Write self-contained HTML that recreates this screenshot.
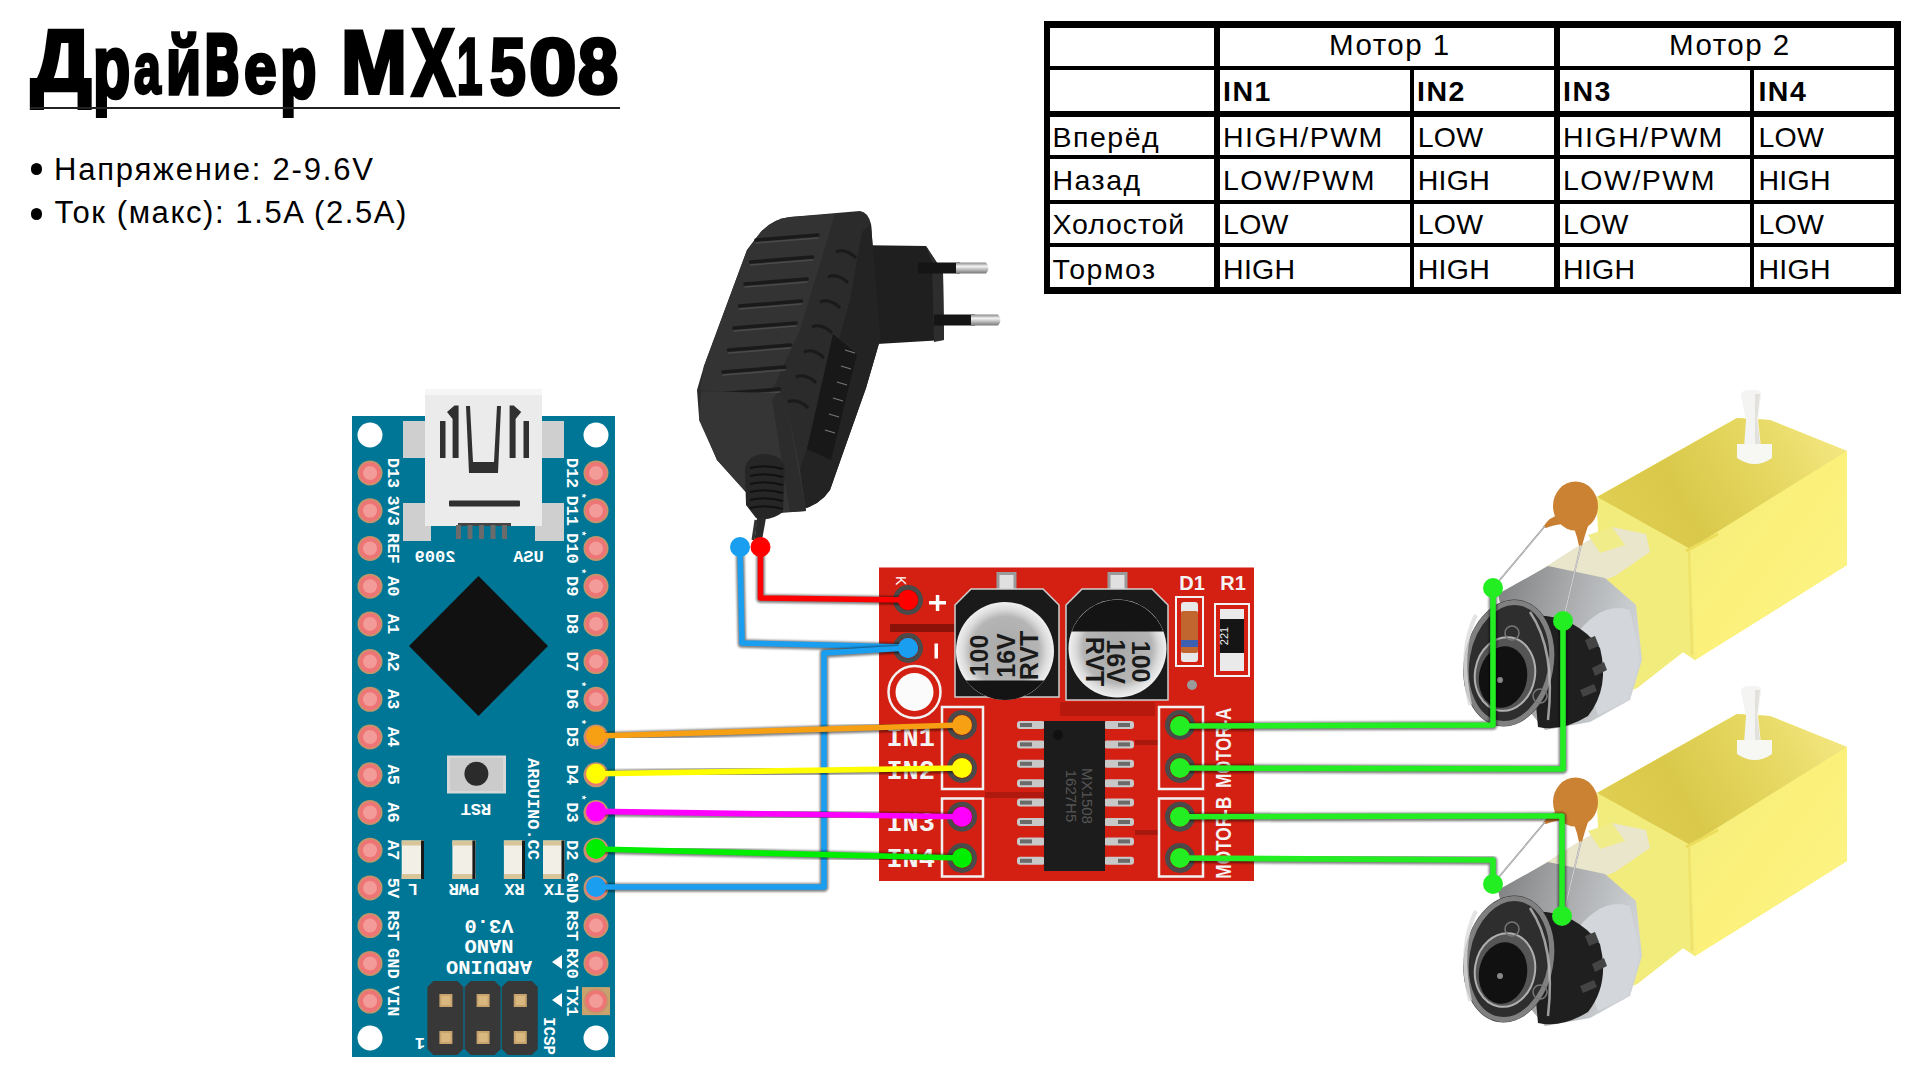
<!DOCTYPE html>
<html><head><meta charset="utf-8">
<style>
html,body{margin:0;padding:0;width:1920px;height:1080px;overflow:hidden;background:#fff;}
body{position:relative;font-family:"Liberation Sans",sans-serif;color:#000;}
.abs{position:absolute;}
.ttl{position:absolute;font-weight:bold;font-size:100px;line-height:1;white-space:nowrap;-webkit-text-stroke:4.5px #000;stroke-linejoin:round;transform-origin:0 0;}
#uline{position:absolute;left:30px;top:107px;width:590px;height:2px;background:#222;}
.bul{position:absolute;font-size:31px;line-height:1;white-space:nowrap;}
.dot{position:absolute;width:11.5px;height:11.5px;border-radius:50%;background:#000;}
.tb{position:absolute;background:#000;}
.tc{position:absolute;font-size:28.5px;line-height:1;white-space:nowrap;letter-spacing:1.5px;}
.tc.b{font-weight:bold;}
svg text{font-family:"Liberation Mono",monospace;fill:#fff;}
.pl{font-size:17px;font-weight:bold;text-anchor:middle;}
.ast{font-size:10px;font-weight:bold;text-anchor:middle;}
.bt{font-size:17px;font-weight:bold;text-anchor:middle;}
.bt2{font-size:17px;font-weight:bold;text-anchor:middle;}
.bt3{font-size:20.5px;font-weight:bold;text-anchor:middle;}
.dk{font-size:14px;font-family:"Liberation Sans",sans-serif;}
.inl{font-family:"Liberation Mono",monospace;font-size:27px;font-weight:bold;text-anchor:middle;fill:#f4f4f4;}
.mot{font-family:"Liberation Sans",sans-serif;font-size:22px;font-weight:bold;text-anchor:middle;fill:#f4f4f4;}
.cap{font-family:"Liberation Sans",sans-serif;font-size:25px;font-weight:bold;text-anchor:middle;fill:#1a1a1a;}
.dl{font-family:"Liberation Sans",sans-serif;font-size:20px;font-weight:bold;text-anchor:middle;fill:#f4f4f4;}
.r1{font-family:"Liberation Sans",sans-serif;font-size:11px;text-anchor:middle;fill:#eee;}
.chip{font-family:"Liberation Sans",sans-serif;font-size:15px;text-anchor:middle;fill:#555;}
</style></head>
<body>
<div class="ttl" style="left:31.36px;top:17.20px;transform:scale(0.8469,0.8727)">Д</div>
<div class="ttl" style="left:92.91px;top:22.19px;transform:scale(0.6092,0.8805)">р</div>
<div class="ttl" style="left:133.64px;top:31.72px;transform:scale(0.4817,0.7227)">а</div>
<div class="ttl" style="left:166.29px;top:24.59px;transform:scale(0.5714,0.8127)">й</div>
<div class="ttl" style="left:203.97px;top:-0.72px;transform:scale(0.5743,1.1165)">в</div>
<div class="ttl" style="left:243.97px;top:31.72px;transform:scale(0.5867,0.7227)">е</div>
<div class="ttl" style="left:279.67px;top:22.19px;transform:scale(0.5963,0.8805)">р</div>
<div class="ttl" style="left:341.24px;top:16.65px;transform:scale(0.7919,0.8980)">M</div>
<div class="ttl" style="left:412.10px;top:13.60px;transform:scale(0.6380,0.9524)">X</div>
<div class="ttl" style="left:457.29px;top:25.64px;transform:scale(0.4563,0.8041)">1</div>
<div class="ttl" style="left:489.52px;top:25.63px;transform:scale(0.6422,0.8054)">5</div>
<div class="ttl" style="left:528.50px;top:25.67px;transform:scale(0.8544,0.7947)">0</div>
<div class="ttl" style="left:578.46px;top:25.80px;transform:scale(0.7211,0.7841)">8</div>
<div id="uline"></div>
<div class="dot" style="left:30.5px;top:163.2px"></div><div class="bul" style="left:54px;top:153.7px;letter-spacing:1.8px">Напряжение: 2-9.6V</div>
<div class="dot" style="left:30.5px;top:208.2px"></div><div class="bul" style="left:54.4px;top:197.4px;letter-spacing:1.6px">Ток (макс): 1.5A (2.5A)</div>

<!-- TABLE -->
<div id="table">
<!-- horizontal borders -->
<div class="tb" style="left:1044px;top:21px;width:857px;height:7px"></div>
<div class="tb" style="left:1044px;top:66px;width:857px;height:4px"></div>
<div class="tb" style="left:1044px;top:111px;width:857px;height:6px"></div>
<div class="tb" style="left:1044px;top:155px;width:857px;height:4px"></div>
<div class="tb" style="left:1044px;top:200px;width:857px;height:4px"></div>
<div class="tb" style="left:1044px;top:243px;width:857px;height:4px"></div>
<div class="tb" style="left:1044px;top:287px;width:857px;height:7px"></div>
<!-- vertical borders -->
<div class="tb" style="left:1044px;top:21px;width:6px;height:273px"></div>
<div class="tb" style="left:1214px;top:21px;width:6px;height:273px"></div>
<div class="tb" style="left:1410px;top:66px;width:4px;height:228px"></div>
<div class="tb" style="left:1554px;top:21px;width:6px;height:273px"></div>
<div class="tb" style="left:1750px;top:66px;width:4px;height:228px"></div>
<div class="tb" style="left:1894px;top:21px;width:7px;height:273px"></div>
<!-- cells -->
<div class="tc" style="left:1329px;top:29.8px;font-size:29.5px">Мотор 1</div>
<div class="tc" style="left:1669px;top:29.8px;font-size:29.5px">Мотор 2</div>
<div class="tc b" style="left:1223px;top:77.3px">IN1</div>
<div class="tc b" style="left:1417px;top:77.3px">IN2</div>
<div class="tc b" style="left:1563px;top:77.3px">IN3</div>
<div class="tc b" style="left:1758.4px;top:77.3px">IN4</div>
<div class="tc" style="left:1052.5px;top:122.6px">Вперёд</div>
<div class="tc" style="left:1223px;top:122.6px">HIGH/PWM</div>
<div class="tc" style="left:1417.7px;top:122.6px;letter-spacing:0.3px">LOW</div>
<div class="tc" style="left:1563px;top:122.6px">HIGH/PWM</div>
<div class="tc" style="left:1758.4px;top:122.6px;letter-spacing:0.3px">LOW</div>
<div class="tc" style="left:1052.5px;top:166.2px">Назад</div>
<div class="tc" style="left:1223px;top:166.2px">LOW/PWM</div>
<div class="tc" style="left:1417.7px;top:166.2px;letter-spacing:0.3px">HIGH</div>
<div class="tc" style="left:1563px;top:166.2px">LOW/PWM</div>
<div class="tc" style="left:1758.4px;top:166.2px;letter-spacing:0.3px">HIGH</div>
<div class="tc" style="left:1052.5px;top:209.7px;letter-spacing:0.9px">Холостой</div>
<div class="tc" style="left:1223px;top:209.7px;letter-spacing:0.3px">LOW</div>
<div class="tc" style="left:1417.7px;top:209.7px;letter-spacing:0.3px">LOW</div>
<div class="tc" style="left:1563px;top:209.7px;letter-spacing:0.3px">LOW</div>
<div class="tc" style="left:1758.4px;top:209.7px;letter-spacing:0.3px">LOW</div>
<div class="tc" style="left:1052.5px;top:254.5px">Тормоз</div>
<div class="tc" style="left:1223px;top:254.5px;letter-spacing:0.3px">HIGH</div>
<div class="tc" style="left:1417.7px;top:254.5px;letter-spacing:0.3px">HIGH</div>
<div class="tc" style="left:1563px;top:254.5px;letter-spacing:0.3px">HIGH</div>
<div class="tc" style="left:1758.4px;top:254.5px;letter-spacing:0.3px">HIGH</div>
</div>

<!-- DIAGRAM -->
<svg class="abs" style="left:0;top:0" width="1920" height="1080" viewBox="0 0 1920 1080">
<defs><radialGradient id="capg" cx="50%" cy="50%" r="50%"><stop offset="0" stop-color="#a8a8a8"/><stop offset="0.7" stop-color="#b5b5b5"/><stop offset="0.85" stop-color="#dadada"/><stop offset="1" stop-color="#f0f0f0"/></radialGradient><linearGradient id="ping" x1="0" y1="0" x2="0" y2="1"><stop offset="0" stop-color="#888"/><stop offset="0.35" stop-color="#f4f4f4"/><stop offset="1" stop-color="#777"/></linearGradient>
<linearGradient id="ytop" x1="0" y1="0.6" x2="1" y2="0.3"><stop offset="0" stop-color="#e0ce52"/><stop offset="0.3" stop-color="#d9c84a"/><stop offset="0.7" stop-color="#e6d862"/><stop offset="1" stop-color="#f3e680"/></linearGradient>
<linearGradient id="yneck" x1="0" y1="0" x2="0.5" y2="1"><stop offset="0" stop-color="#f0e040"/><stop offset="1" stop-color="#f2e660"/></linearGradient>
<linearGradient id="yside" x1="0" y1="0" x2="1" y2="1"><stop offset="0" stop-color="#f2ec7e"/><stop offset="0.5" stop-color="#fbf17a"/><stop offset="1" stop-color="#fdf48a"/></linearGradient>
<linearGradient id="can" x1="0" y1="0" x2="1" y2="0.3"><stop offset="0" stop-color="#7e7f80"/><stop offset="0.5" stop-color="#a9abad"/><stop offset="1" stop-color="#d0d3d6"/></linearGradient>
<filter id="blur1" x="-10%" y="-10%" width="120%" height="120%"><feGaussianBlur stdDeviation="1.2"/></filter>
</defs>
<g id="arduino">
<rect x="352" y="416" width="263" height="641" fill="#007696"/>
<circle cx="370" cy="435" r="12.5" fill="#fff"/>
<circle cx="596" cy="435" r="12.5" fill="#fff"/>
<circle cx="370" cy="1038" r="12.5" fill="#fff"/>
<circle cx="596" cy="1038" r="12.5" fill="#fff"/>
<circle cx="370" cy="473.0" r="12.5" fill="#c4956a"/>
<circle cx="370" cy="473.0" r="10.8" fill="#ee7575"/>
<circle cx="370" cy="473.0" r="7" fill="#f29b98"/>
<circle cx="596" cy="473.0" r="12.5" fill="#c4956a"/>
<circle cx="596" cy="473.0" r="10.8" fill="#ee7575"/>
<circle cx="596" cy="473.0" r="7" fill="#f29b98"/>
<circle cx="370" cy="510.7" r="12.5" fill="#c4956a"/>
<circle cx="370" cy="510.7" r="10.8" fill="#ee7575"/>
<circle cx="370" cy="510.7" r="7" fill="#f29b98"/>
<circle cx="596" cy="510.7" r="12.5" fill="#c4956a"/>
<circle cx="596" cy="510.7" r="10.8" fill="#ee7575"/>
<circle cx="596" cy="510.7" r="7" fill="#f29b98"/>
<circle cx="370" cy="548.4" r="12.5" fill="#c4956a"/>
<circle cx="370" cy="548.4" r="10.8" fill="#ee7575"/>
<circle cx="370" cy="548.4" r="7" fill="#f29b98"/>
<circle cx="596" cy="548.4" r="12.5" fill="#c4956a"/>
<circle cx="596" cy="548.4" r="10.8" fill="#ee7575"/>
<circle cx="596" cy="548.4" r="7" fill="#f29b98"/>
<circle cx="370" cy="586.2" r="12.5" fill="#c4956a"/>
<circle cx="370" cy="586.2" r="10.8" fill="#ee7575"/>
<circle cx="370" cy="586.2" r="7" fill="#f29b98"/>
<circle cx="596" cy="586.2" r="12.5" fill="#c4956a"/>
<circle cx="596" cy="586.2" r="10.8" fill="#ee7575"/>
<circle cx="596" cy="586.2" r="7" fill="#f29b98"/>
<circle cx="370" cy="623.9" r="12.5" fill="#c4956a"/>
<circle cx="370" cy="623.9" r="10.8" fill="#ee7575"/>
<circle cx="370" cy="623.9" r="7" fill="#f29b98"/>
<circle cx="596" cy="623.9" r="12.5" fill="#c4956a"/>
<circle cx="596" cy="623.9" r="10.8" fill="#ee7575"/>
<circle cx="596" cy="623.9" r="7" fill="#f29b98"/>
<circle cx="370" cy="661.6" r="12.5" fill="#c4956a"/>
<circle cx="370" cy="661.6" r="10.8" fill="#ee7575"/>
<circle cx="370" cy="661.6" r="7" fill="#f29b98"/>
<circle cx="596" cy="661.6" r="12.5" fill="#c4956a"/>
<circle cx="596" cy="661.6" r="10.8" fill="#ee7575"/>
<circle cx="596" cy="661.6" r="7" fill="#f29b98"/>
<circle cx="370" cy="699.3" r="12.5" fill="#c4956a"/>
<circle cx="370" cy="699.3" r="10.8" fill="#ee7575"/>
<circle cx="370" cy="699.3" r="7" fill="#f29b98"/>
<circle cx="596" cy="699.3" r="12.5" fill="#c4956a"/>
<circle cx="596" cy="699.3" r="10.8" fill="#ee7575"/>
<circle cx="596" cy="699.3" r="7" fill="#f29b98"/>
<circle cx="370" cy="737.0" r="12.5" fill="#c4956a"/>
<circle cx="370" cy="737.0" r="10.8" fill="#ee7575"/>
<circle cx="370" cy="737.0" r="7" fill="#f29b98"/>
<circle cx="596" cy="737.0" r="12.5" fill="#c4956a"/>
<circle cx="596" cy="737.0" r="10.8" fill="#ee7575"/>
<circle cx="596" cy="737.0" r="7" fill="#f29b98"/>
<circle cx="370" cy="774.8" r="12.5" fill="#c4956a"/>
<circle cx="370" cy="774.8" r="10.8" fill="#ee7575"/>
<circle cx="370" cy="774.8" r="7" fill="#f29b98"/>
<circle cx="596" cy="774.8" r="12.5" fill="#c4956a"/>
<circle cx="596" cy="774.8" r="10.8" fill="#ee7575"/>
<circle cx="596" cy="774.8" r="7" fill="#f29b98"/>
<circle cx="370" cy="812.5" r="12.5" fill="#c4956a"/>
<circle cx="370" cy="812.5" r="10.8" fill="#ee7575"/>
<circle cx="370" cy="812.5" r="7" fill="#f29b98"/>
<circle cx="596" cy="812.5" r="12.5" fill="#c4956a"/>
<circle cx="596" cy="812.5" r="10.8" fill="#ee7575"/>
<circle cx="596" cy="812.5" r="7" fill="#f29b98"/>
<circle cx="370" cy="850.2" r="12.5" fill="#c4956a"/>
<circle cx="370" cy="850.2" r="10.8" fill="#ee7575"/>
<circle cx="370" cy="850.2" r="7" fill="#f29b98"/>
<circle cx="596" cy="850.2" r="12.5" fill="#c4956a"/>
<circle cx="596" cy="850.2" r="10.8" fill="#ee7575"/>
<circle cx="596" cy="850.2" r="7" fill="#f29b98"/>
<circle cx="370" cy="887.9" r="12.5" fill="#c4956a"/>
<circle cx="370" cy="887.9" r="10.8" fill="#ee7575"/>
<circle cx="370" cy="887.9" r="7" fill="#f29b98"/>
<circle cx="596" cy="887.9" r="12.5" fill="#c4956a"/>
<circle cx="596" cy="887.9" r="10.8" fill="#ee7575"/>
<circle cx="596" cy="887.9" r="7" fill="#f29b98"/>
<circle cx="370" cy="925.6" r="12.5" fill="#c4956a"/>
<circle cx="370" cy="925.6" r="10.8" fill="#ee7575"/>
<circle cx="370" cy="925.6" r="7" fill="#f29b98"/>
<circle cx="596" cy="925.6" r="12.5" fill="#c4956a"/>
<circle cx="596" cy="925.6" r="10.8" fill="#ee7575"/>
<circle cx="596" cy="925.6" r="7" fill="#f29b98"/>
<circle cx="370" cy="963.4" r="12.5" fill="#c4956a"/>
<circle cx="370" cy="963.4" r="10.8" fill="#ee7575"/>
<circle cx="370" cy="963.4" r="7" fill="#f29b98"/>
<circle cx="596" cy="963.4" r="12.5" fill="#c4956a"/>
<circle cx="596" cy="963.4" r="10.8" fill="#ee7575"/>
<circle cx="596" cy="963.4" r="7" fill="#f29b98"/>
<circle cx="370" cy="1001.1" r="12.5" fill="#c4956a"/>
<circle cx="370" cy="1001.1" r="10.8" fill="#ee7575"/>
<circle cx="370" cy="1001.1" r="7" fill="#f29b98"/>
<rect x="582" y="987.1" width="28" height="28" fill="#c9a36e"/>
<circle cx="596" cy="1001.1" r="12.5" fill="#c4956a"/>
<circle cx="596" cy="1001.1" r="10.8" fill="#ee7575"/>
<circle cx="596" cy="1001.1" r="7" fill="#f29b98"/>
<text transform="translate(387.5,473.0) rotate(90)" class="pl">D13</text>
<text transform="translate(567,473.0) rotate(90)" class="pl">D12</text>
<text transform="translate(387.5,510.7) rotate(90)" class="pl">3V3</text>
<text transform="translate(567,510.7) rotate(90)" class="pl">D11</text>
<text transform="translate(387.5,548.4) rotate(90)" class="pl">REF</text>
<text transform="translate(567,548.4) rotate(90)" class="pl">D10</text>
<text transform="translate(387.5,586.2) rotate(90)" class="pl">A0</text>
<text transform="translate(567,586.2) rotate(90)" class="pl">D9</text>
<text transform="translate(387.5,623.9) rotate(90)" class="pl">A1</text>
<text transform="translate(567,623.9) rotate(90)" class="pl">D8</text>
<text transform="translate(387.5,661.6) rotate(90)" class="pl">A2</text>
<text transform="translate(567,661.6) rotate(90)" class="pl">D7</text>
<text transform="translate(387.5,699.3) rotate(90)" class="pl">A3</text>
<text transform="translate(567,699.3) rotate(90)" class="pl">D6</text>
<text transform="translate(387.5,737.0) rotate(90)" class="pl">A4</text>
<text transform="translate(567,737.0) rotate(90)" class="pl">D5</text>
<text transform="translate(387.5,774.8) rotate(90)" class="pl">A5</text>
<text transform="translate(567,774.8) rotate(90)" class="pl">D4</text>
<text transform="translate(387.5,812.5) rotate(90)" class="pl">A6</text>
<text transform="translate(567,812.5) rotate(90)" class="pl">D3</text>
<text transform="translate(387.5,850.2) rotate(90)" class="pl">A7</text>
<text transform="translate(567,850.2) rotate(90)" class="pl">D2</text>
<text transform="translate(387.5,887.9) rotate(90)" class="pl">5V</text>
<text transform="translate(567,887.9) rotate(90)" class="pl">GND</text>
<text transform="translate(387.5,925.6) rotate(90)" class="pl">RST</text>
<text transform="translate(567,925.6) rotate(90)" class="pl">RST</text>
<text transform="translate(387.5,963.4) rotate(90)" class="pl">GND</text>
<text transform="translate(567,963.4) rotate(90)" class="pl">RX0</text>
<text transform="translate(387.5,1001.1) rotate(90)" class="pl">VIN</text>
<text transform="translate(567,1001.1) rotate(90)" class="pl">TX1</text>
<text transform="translate(578,495.7) rotate(90)" class="ast">*</text>
<text transform="translate(578,533.4) rotate(90)" class="ast">*</text>
<text transform="translate(578,571.2) rotate(90)" class="ast">*</text>
<text transform="translate(578,684.3) rotate(90)" class="ast">*</text>
<text transform="translate(578,722.0) rotate(90)" class="ast">*</text>
<text transform="translate(578,797.5) rotate(90)" class="ast">*</text>
<rect x="403" y="421" width="26" height="37" fill="#cfcfcf"/>
<rect x="403" y="503" width="28" height="38" fill="#cfcfcf"/>
<rect x="538" y="421" width="26" height="37" fill="#cfcfcf"/>
<rect x="535" y="503" width="29" height="38" fill="#cfcfcf"/>
<rect x="425" y="389" width="117" height="137" fill="#ebebeb"/>
<rect x="425" y="389" width="117" height="6" fill="#f6f6f6"/>
<rect x="440" y="421" width="5.5" height="37" fill="#303030"/>
<rect x="523.5" y="421" width="5.5" height="37" fill="#303030"/>
<path d="M452.6,458 L452.6,419 L447,412 L454.5,405.5 L458.6,405.5 L458.6,458 Z" fill="#303030"/>
<path d="M515.6,458 L515.6,419 L521.2,412 L513.7,405.5 L509.6,405.5 L509.6,458 Z" fill="#303030"/>
<path d="M466,406 L470,406 L473,462 L494,462 L497,406 L501,406 L498,473 L469,473 Z" fill="#303030"/>
<rect x="449" y="500.5" width="71" height="6" rx="1" fill="#303030"/>
<rect x="458" y="523" width="53" height="3" fill="#444"/>
<rect x="456.0" y="525" width="5" height="14" fill="#6b6b6b"/>
<rect x="467.5" y="525" width="5" height="14" fill="#6b6b6b"/>
<rect x="479.0" y="525" width="5" height="14" fill="#6b6b6b"/>
<rect x="490.5" y="525" width="5" height="14" fill="#6b6b6b"/>
<rect x="502.0" y="525" width="5" height="14" fill="#6b6b6b"/>
<text transform="translate(435,562) scale(-1,1)" class="bt">2009</text>
<text transform="translate(528.5,562) scale(-1,1)" class="bt">USA</text>
<polygon points="478.5,576 548,646 478.5,716 409,646" fill="#111"/>
<rect x="447" y="755.5" width="59" height="38" fill="#d8d8d8"/>
<rect x="450" y="758" width="53" height="33" fill="#cbcbcb"/>
<circle cx="476.4" cy="773.7" r="12" fill="#2b2b2b"/>
<text transform="translate(476,804) rotate(180)" class="bt">RST</text>
<rect x="401.7" y="840.5" width="22.3" height="38.5" fill="#f2efe6"/>
<rect x="401.7" y="840.5" width="22.3" height="5" fill="#d9c59a"/>
<rect x="401.7" y="874" width="22.3" height="5" fill="#d9c59a"/>
<rect x="421.0" y="840.5" width="3" height="38.5" fill="#1a1a1a"/>
<rect x="452.4" y="840.5" width="23.0" height="38.5" fill="#f2efe6"/>
<rect x="452.4" y="840.5" width="23.0" height="5" fill="#d9c59a"/>
<rect x="452.4" y="874" width="23.0" height="5" fill="#d9c59a"/>
<rect x="472.4" y="840.5" width="3" height="38.5" fill="#1a1a1a"/>
<rect x="503.9" y="840.5" width="21.1" height="38.5" fill="#f2efe6"/>
<rect x="503.9" y="840.5" width="21.1" height="5" fill="#d9c59a"/>
<rect x="503.9" y="874" width="21.1" height="5" fill="#d9c59a"/>
<rect x="522.0" y="840.5" width="3" height="38.5" fill="#1a1a1a"/>
<rect x="543.0" y="840.5" width="21.5" height="38.5" fill="#f2efe6"/>
<rect x="543.0" y="840.5" width="21.5" height="5" fill="#d9c59a"/>
<rect x="543.0" y="874" width="21.5" height="5" fill="#d9c59a"/>
<rect x="561.5" y="840.5" width="3" height="38.5" fill="#1a1a1a"/>
<text transform="translate(413,884) rotate(180)" class="bt">L</text>
<text transform="translate(464,884) rotate(180)" class="bt">PWR</text>
<text transform="translate(514.5,884) rotate(180)" class="bt">RX</text>
<text transform="translate(554,884) rotate(180)" class="bt">TX</text>
<text transform="translate(528,809) rotate(90)" class="bt2">ARDUINO.CC</text>
<text transform="translate(489,919.5) rotate(180)" class="bt3">V3.0</text>
<text transform="translate(489,940) rotate(180)" class="bt3">NANO</text>
<text transform="translate(489,960.5) rotate(180)" class="bt3">ARDUINO</text>
<path d="M433.4,981 L457.4,981 L463.4,987 L463.4,1049 L457.4,1055 L433.4,1055 L427.4,1049 L427.4,987 Z" fill="#383838"/>
<rect x="439.4" y="994" width="13" height="13" fill="#c9a36e"/>
<rect x="441.4" y="996" width="9" height="9" fill="#d9b880"/>
<rect x="439.4" y="1031" width="13" height="13" fill="#c9a36e"/>
<rect x="441.4" y="1033" width="9" height="9" fill="#d9b880"/>
<path d="M470.6,981 L494.6,981 L500.6,987 L500.6,1049 L494.6,1055 L470.6,1055 L464.6,1049 L464.6,987 Z" fill="#383838"/>
<rect x="476.6" y="994" width="13" height="13" fill="#c9a36e"/>
<rect x="478.6" y="996" width="9" height="9" fill="#d9b880"/>
<rect x="476.6" y="1031" width="13" height="13" fill="#c9a36e"/>
<rect x="478.6" y="1033" width="9" height="9" fill="#d9b880"/>
<path d="M507.8,981 L531.8,981 L537.8,987 L537.8,1049 L531.8,1055 L507.8,1055 L501.8,1049 L501.8,987 Z" fill="#383838"/>
<rect x="513.8" y="994" width="13" height="13" fill="#c9a36e"/>
<rect x="515.8" y="996" width="9" height="9" fill="#d9b880"/>
<rect x="513.8" y="1031" width="13" height="13" fill="#c9a36e"/>
<rect x="515.8" y="1033" width="9" height="9" fill="#d9b880"/>
<text transform="translate(420,1037.7) rotate(180)" class="bt">1</text>
<text transform="translate(544,1036) rotate(90)" class="bt" textLength="38" lengthAdjust="spacingAndGlyphs">ICSP</text>
<polygon points="552,962 562,955 562,969" fill="#fff"/>
<polygon points="552,1000 562,993 562,1007" fill="#fff"/>
</g>
<g id="driver">
<rect x="879" y="567.5" width="375" height="313.5" fill="#d42012"/>
<rect x="890" y="624" width="66" height="8" fill="#8a1208"/>
<rect x="1060" y="702" width="95" height="14" fill="#b8190d"/>
<rect x="985" y="792" width="60" height="6" fill="#b01a0e"/>
<rect x="1135" y="740" width="24" height="5" fill="#a8180c"/>
<rect x="1135" y="830" width="24" height="5" fill="#a8180c"/>
<circle cx="908" cy="600" r="15" fill="#4a4a4a"/>
<circle cx="908" cy="600" r="10.5" fill="#8a1a12"/>
<circle cx="908" cy="648" r="15" fill="#4a4a4a"/>
<circle cx="908" cy="648" r="10.5" fill="#8a1a12"/>
<rect x="929" y="601" width="17" height="3.5" fill="#fff"/>
<rect x="935.8" y="595" width="3.5" height="16" fill="#fff"/>
<rect x="934.5" y="643.5" width="3.5" height="15" fill="#fff"/>
<text transform="translate(896,576) rotate(90)" class="dk">K</text>
<circle cx="914.5" cy="692" r="26" fill="none" stroke="#f2f2f2" stroke-width="2.5"/>
<circle cx="914.5" cy="692" r="19" fill="#fbfbfb"/>
<rect x="942" y="707" width="41" height="82" fill="none" stroke="#f2f2f2" stroke-width="2.5"/>
<rect x="942" y="798.5" width="41" height="78" fill="none" stroke="#f2f2f2" stroke-width="2.5"/>
<rect x="1159" y="707" width="44" height="82" fill="none" stroke="#f2f2f2" stroke-width="2.5"/>
<rect x="1159" y="798.5" width="44" height="78" fill="none" stroke="#f2f2f2" stroke-width="2.5"/>
<circle cx="962" cy="725" r="15" fill="#4a4a4a"/>
<circle cx="962" cy="725" r="10.5" fill="#8a1a12"/>
<circle cx="1180" cy="725" r="15" fill="#4a4a4a"/>
<circle cx="1180" cy="725" r="10.5" fill="#8a1a12"/>
<circle cx="962" cy="768" r="15" fill="#4a4a4a"/>
<circle cx="962" cy="768" r="10.5" fill="#8a1a12"/>
<circle cx="1180" cy="768" r="15" fill="#4a4a4a"/>
<circle cx="1180" cy="768" r="10.5" fill="#8a1a12"/>
<circle cx="962" cy="816.7" r="15" fill="#4a4a4a"/>
<circle cx="962" cy="816.7" r="10.5" fill="#8a1a12"/>
<circle cx="1180" cy="816.7" r="15" fill="#4a4a4a"/>
<circle cx="1180" cy="816.7" r="10.5" fill="#8a1a12"/>
<circle cx="962" cy="858" r="15" fill="#4a4a4a"/>
<circle cx="962" cy="858" r="10.5" fill="#8a1a12"/>
<circle cx="1180" cy="858" r="15" fill="#4a4a4a"/>
<circle cx="1180" cy="858" r="10.5" fill="#8a1a12"/>
<text x="910.7" y="745.6" class="inl">IN1</text>
<text x="910.7" y="778.5" class="inl">IN2</text>
<text x="910.7" y="830.5" class="inl">IN3</text>
<text x="910.7" y="866.5" class="inl">IN4</text>
<text transform="translate(1230.5,747.8) rotate(-90)" class="mot" textLength="80" lengthAdjust="spacingAndGlyphs">MOTOR-A</text>
<text transform="translate(1230.5,837.7) rotate(-90)" class="mot" textLength="82" lengthAdjust="spacingAndGlyphs">MOTOR-B</text>
<rect x="996.5" y="572" width="20" height="20" fill="#9a9a9a"/>
<rect x="999.5" y="575" width="14" height="14" fill="#e0e0e0"/>
<path d="M971,589 L1043,589 L1059,605 L1059,697 L955,697 L955,605 Z" fill="#1a1a1a" stroke="#cfcfcf" stroke-width="1.5"/>
<circle cx="1005" cy="651" r="49" fill="url(#capg)"/>
<path d="M965.8,680.4 A49,49 0 0 0 1044.2,680.4 Z" fill="#141414"/>
<rect x="1107.5" y="572" width="20" height="20" fill="#9a9a9a"/>
<rect x="1110.5" y="575" width="14" height="14" fill="#e0e0e0"/>
<path d="M1082,589 L1152,589 L1168,605 L1168,700 L1066,700 L1066,605 Z" fill="#1a1a1a" stroke="#cfcfcf" stroke-width="1.5"/>
<circle cx="1117.5" cy="648.5" r="49" fill="url(#capg)"/>
<path d="M1071.6,631.5 A49,49 0 0 1 1163.4,631.5 Z" fill="#141414"/>
<g transform="translate(1004.5,655.5) rotate(-90)"><text x="0" y="-16.5" class="cap">100</text><text x="0" y="10.5" class="cap">16V</text><text x="0" y="33.5" class="cap">RVT</text></g>
<g transform="translate(1117.5,661.6) rotate(90)"><text x="0" y="-14" class="cap">100</text><text x="0" y="10.5" class="cap">16V</text><text x="0" y="32" class="cap">RVT</text></g>
<rect x="1176" y="597" width="27" height="69" fill="none" stroke="#f2f2f2" stroke-width="2"/>
<rect x="1181" y="602" width="17" height="60" rx="3" fill="#e8e8e8"/>
<rect x="1181" y="611" width="17" height="42" rx="2" fill="#c0662e"/>
<rect x="1181" y="640" width="17" height="7" fill="#3f5fb0"/>
<text x="1192" y="590" class="dl">D1</text>
<text x="1233" y="590" class="dl">R1</text>
<rect x="1215" y="604" width="34" height="72" fill="none" stroke="#f2f2f2" stroke-width="2"/>
<rect x="1220" y="609" width="24" height="62" fill="#eaeaea"/>
<rect x="1220" y="619" width="24" height="34" fill="#151515"/>
<text transform="translate(1228,636) rotate(-90)" class="r1">221</text>
<circle cx="1192" cy="685" r="5" fill="#9a9a9a"/>
<rect x="1017" y="721.0" width="28" height="8" rx="3" fill="#c8c8c8"/>
<rect x="1104" y="721.0" width="30" height="8" rx="3" fill="#c8c8c8"/>
<rect x="1020" y="723.0" width="12" height="4" fill="#6a6a6a"/>
<rect x="1118" y="723.0" width="12" height="4" fill="#6a6a6a"/>
<rect x="1017" y="740.4" width="28" height="8" rx="3" fill="#c8c8c8"/>
<rect x="1104" y="740.4" width="30" height="8" rx="3" fill="#c8c8c8"/>
<rect x="1020" y="742.4" width="12" height="4" fill="#6a6a6a"/>
<rect x="1118" y="742.4" width="12" height="4" fill="#6a6a6a"/>
<rect x="1017" y="759.8" width="28" height="8" rx="3" fill="#c8c8c8"/>
<rect x="1104" y="759.8" width="30" height="8" rx="3" fill="#c8c8c8"/>
<rect x="1020" y="761.8" width="12" height="4" fill="#6a6a6a"/>
<rect x="1118" y="761.8" width="12" height="4" fill="#6a6a6a"/>
<rect x="1017" y="779.2" width="28" height="8" rx="3" fill="#c8c8c8"/>
<rect x="1104" y="779.2" width="30" height="8" rx="3" fill="#c8c8c8"/>
<rect x="1020" y="781.2" width="12" height="4" fill="#6a6a6a"/>
<rect x="1118" y="781.2" width="12" height="4" fill="#6a6a6a"/>
<rect x="1017" y="798.6" width="28" height="8" rx="3" fill="#c8c8c8"/>
<rect x="1104" y="798.6" width="30" height="8" rx="3" fill="#c8c8c8"/>
<rect x="1020" y="800.6" width="12" height="4" fill="#6a6a6a"/>
<rect x="1118" y="800.6" width="12" height="4" fill="#6a6a6a"/>
<rect x="1017" y="818.0" width="28" height="8" rx="3" fill="#c8c8c8"/>
<rect x="1104" y="818.0" width="30" height="8" rx="3" fill="#c8c8c8"/>
<rect x="1020" y="820.0" width="12" height="4" fill="#6a6a6a"/>
<rect x="1118" y="820.0" width="12" height="4" fill="#6a6a6a"/>
<rect x="1017" y="837.4" width="28" height="8" rx="3" fill="#c8c8c8"/>
<rect x="1104" y="837.4" width="30" height="8" rx="3" fill="#c8c8c8"/>
<rect x="1020" y="839.4" width="12" height="4" fill="#6a6a6a"/>
<rect x="1118" y="839.4" width="12" height="4" fill="#6a6a6a"/>
<rect x="1017" y="856.8" width="28" height="8" rx="3" fill="#c8c8c8"/>
<rect x="1104" y="856.8" width="30" height="8" rx="3" fill="#c8c8c8"/>
<rect x="1020" y="858.8" width="12" height="4" fill="#6a6a6a"/>
<rect x="1118" y="858.8" width="12" height="4" fill="#6a6a6a"/>
<rect x="1044" y="721" width="61" height="150" fill="#1c1c1c"/>
<circle cx="1058" cy="735" r="5" fill="#111"/>
<g transform="translate(1080,796) rotate(90)"><text x="0" y="-2" class="chip">MX1508</text><text x="0" y="14" class="chip">1627H5</text></g>
</g>
<g id="adapter">
<path d="M850,245 L926,246 L943,272 L944,340 L877,344 L852,300 Z" fill="#1f1f1f"/>
<path d="M926,246 L943,272 L944,340 L934,342 L932,262 Z" fill="#2d2d2d"/>
<rect x="918" y="262.5" width="42" height="11" fill="#151515"/>
<path d="M956,262.5 L986,262.5 Q991,268 986,273.5 L956,273.5 Z" fill="url(#ping)"/>
<rect x="934" y="314.5" width="41" height="11" fill="#151515"/>
<path d="M971,314.5 L998,314.5 Q1003,320 998,325.5 L971,325.5 Z" fill="url(#ping)"/>
<path d="M760,233 Q772,219 790,217 L860,211 Q868,212 871,224 L880,340 L866,388 L843,453 L830,490 Q820,505 800,510 L780,512 L753,500 L717,460 L699,417 L697,390 L704,366 L747,250 Z" fill="#2b2b2b"/>
<path d="M871,224 L880,340 L866,388 L843,453 L830,490 Q820,505 800,510 L790,511 L800,470 L822,400 L850,300 L862,232 Z" fill="#232323"/>
<path d="M760,233 Q772,219 790,217 L835,214 L800,330 L770,395 L700,390 L704,366 L747,250 Z" fill="#333333"/>
<path d="M756.0,240.0 L818.0,235.0" stroke="#1a1a1a" stroke-width="3.5" stroke-linecap="round"/>
<path d="M756.0,243.0 L818.0,238.0" stroke="#4a4a4a" stroke-width="1.5" stroke-linecap="round"/>
<path d="M750.5,262.0 L812.5,257.0" stroke="#1a1a1a" stroke-width="3.5" stroke-linecap="round"/>
<path d="M750.5,265.0 L812.5,260.0" stroke="#4a4a4a" stroke-width="1.5" stroke-linecap="round"/>
<path d="M745.0,284.0 L807.0,279.0" stroke="#1a1a1a" stroke-width="3.5" stroke-linecap="round"/>
<path d="M745.0,287.0 L807.0,282.0" stroke="#4a4a4a" stroke-width="1.5" stroke-linecap="round"/>
<path d="M739.5,306.0 L801.5,301.0" stroke="#1a1a1a" stroke-width="3.5" stroke-linecap="round"/>
<path d="M739.5,309.0 L801.5,304.0" stroke="#4a4a4a" stroke-width="1.5" stroke-linecap="round"/>
<path d="M734.0,328.0 L796.0,323.0" stroke="#1a1a1a" stroke-width="3.5" stroke-linecap="round"/>
<path d="M734.0,331.0 L796.0,326.0" stroke="#4a4a4a" stroke-width="1.5" stroke-linecap="round"/>
<path d="M728.5,350.0 L790.5,345.0" stroke="#1a1a1a" stroke-width="3.5" stroke-linecap="round"/>
<path d="M728.5,353.0 L790.5,348.0" stroke="#4a4a4a" stroke-width="1.5" stroke-linecap="round"/>
<path d="M723.0,372.0 L785.0,367.0" stroke="#1a1a1a" stroke-width="3.5" stroke-linecap="round"/>
<path d="M723.0,375.0 L785.0,370.0" stroke="#4a4a4a" stroke-width="1.5" stroke-linecap="round"/>
<path d="M717.5,394.0 L779.5,389.0" stroke="#1a1a1a" stroke-width="3.5" stroke-linecap="round"/>
<path d="M717.5,397.0 L779.5,392.0" stroke="#4a4a4a" stroke-width="1.5" stroke-linecap="round"/>
<path d="M712.0,416.0 L774.0,411.0" stroke="#1a1a1a" stroke-width="3.5" stroke-linecap="round"/>
<path d="M712.0,419.0 L774.0,414.0" stroke="#4a4a4a" stroke-width="1.5" stroke-linecap="round"/>
<path d="M836.0,252.0 Q846.0,248.0 856.0,258.0" fill="none" stroke="#1a1a1a" stroke-width="3"/>
<path d="M828.0,277.0 Q838.0,273.0 848.0,283.0" fill="none" stroke="#1a1a1a" stroke-width="3"/>
<path d="M820.0,302.0 Q830.0,298.0 840.0,308.0" fill="none" stroke="#1a1a1a" stroke-width="3"/>
<path d="M812.0,327.0 Q822.0,323.0 832.0,333.0" fill="none" stroke="#1a1a1a" stroke-width="3"/>
<path d="M804.0,352.0 Q814.0,348.0 824.0,358.0" fill="none" stroke="#1a1a1a" stroke-width="3"/>
<path d="M796.0,377.0 Q806.0,373.0 816.0,383.0" fill="none" stroke="#1a1a1a" stroke-width="3"/>
<path d="M788.0,402.0 Q798.0,398.0 808.0,408.0" fill="none" stroke="#1a1a1a" stroke-width="3"/>
<path d="M701,391 L777,393 L786,402 L800,470 L806,511 L780,513 L753,500 L717,460 L699,420 Z" fill="#353535"/>
<path d="M777,393 L786,402 L806,511 L790,512 L772,400 Z" fill="#2c2c2c"/>
<path d="M833,334 L857,354 L831,460 L807,449 Z" fill="#181818"/>
<path d="M845,350 l10,3" stroke="#777" stroke-width="1.2"/>
<path d="M841,366 l10,3" stroke="#777" stroke-width="1.2"/>
<path d="M837,382 l10,3" stroke="#777" stroke-width="1.2"/>
<path d="M833,398 l10,3" stroke="#777" stroke-width="1.2"/>
<path d="M829,414 l10,3" stroke="#777" stroke-width="1.2"/>
<path d="M825,430 l10,3" stroke="#777" stroke-width="1.2"/>
<path d="M745,470 Q746,455 765,454 Q784,455 785,470 L783,512 Q770,522 756,518 L746,505 Z" fill="#262626"/>
<path d="M750,468 Q766,464 783,469" fill="none" stroke="#111" stroke-width="2"/>
<path d="M750,476 Q766,472 783,477" fill="none" stroke="#111" stroke-width="2"/>
<path d="M750,484 Q766,480 783,485" fill="none" stroke="#111" stroke-width="2"/>
<path d="M750,492 Q766,488 783,493" fill="none" stroke="#111" stroke-width="2"/>
<path d="M750,500 Q766,496 783,501" fill="none" stroke="#111" stroke-width="2"/>
<path d="M750,508 Q766,504 783,509" fill="none" stroke="#111" stroke-width="2"/>
<path d="M757,518 L766,518 L762,540 L754,545 Z" fill="#2a2a2a"/>
</g>
<g transform="translate(0,0)">
<path d="M1597,497 L1737,418 L1770,420 L1847,451 L1847,565 L1695,660 L1683,652 L1637,688 L1620,694 L1600,600 Z" fill="#f6ee7a"/>
<path d="M1597,497 L1737,418 L1770,420 L1847,451 L1690,549 Z" fill="url(#ytop)"/>
<path d="M1690,549 L1847,451 L1847,565 L1695,660 Z" fill="url(#yside)"/>
<path d="M1597,497 L1690,549 L1695,660 L1683,652 L1637,688 L1620,694 L1600,600 Z" fill="#f2ec7c"/>
<path d="M1689,550 L1692,655" stroke="#efe26a" stroke-width="2.5"/>
<path d="M1686,551 L1718,534" stroke="#ecdc5c" stroke-width="3"/>
<path d="M1741,396 Q1741,390 1748,390 L1755,390 Q1762,390 1761,396 L1758,420 L1761,447 L1744,447 L1746,420 Z" fill="#f4f4f2"/>
<path d="M1737,444 L1772,444 L1772,458 Q1755,470 1737,458 Z" fill="#f7f7f4"/>
<path d="M1755,394 L1760,394 L1757,420 L1760,444 L1755,444 Z" fill="#e2e1dc"/>
<path d="M1528,578 L1575,548 L1612,527 L1646,534 L1650,552 L1615,576 L1575,592 L1540,602 Z" fill="#eae6cc"/>
<path d="M1588,535 L1612,527 L1625,545 L1600,553 Z" fill="#f1ec8a"/>
<path d="M1498,594 L1548,566 L1605,578 L1636,605 L1642,660 L1630,700 L1590,722 L1545,730 L1520,700 Z" fill="url(#can)"/>
<path d="M1572,640 Q1600,600 1630,610 L1640,660 L1628,700 L1598,715 Z" fill="#d3d7db"/>
<path d="M1528,616 Q1572,612 1600,648 Q1610,688 1588,716 Q1562,732 1538,727 Z" fill="#1f1f1f"/>
<path d="M1585,640 l10,-4 l4,10 l-10,4 Z M1592,668 l12,-6 l3,8 l-12,6 Z M1580,690 l14,-6 l3,7 l-14,6 Z" fill="#444"/>
<ellipse cx="1509" cy="663" rx="45" ry="64" transform="rotate(10 1509 663)" fill="#2e2e2e"/>
<ellipse cx="1509" cy="663" rx="42" ry="61" transform="rotate(10 1509 663)" fill="none" stroke="#9c9c9c" stroke-width="5" opacity="0.75"/>
<path d="M1476,615 Q1458,650 1470,705" fill="none" stroke="#dcdcdc" stroke-width="4" opacity="0.8"/>
<path d="M1530,612 Q1556,650 1548,720" fill="none" stroke="#bdbdbd" stroke-width="2.5" opacity="0.8"/>
<ellipse cx="1505" cy="674" rx="30" ry="37" transform="rotate(10 1505 674)" fill="#555" stroke="#b0b0b0" stroke-width="2"/>
<ellipse cx="1503" cy="677" rx="24" ry="31" transform="rotate(10 1503 677)" fill="#111"/>
<circle cx="1500" cy="680" r="3" fill="#888"/>
<circle cx="1512" cy="633" r="7" fill="none" stroke="#777" stroke-width="1.5"/>
<circle cx="1540" cy="696" r="7" fill="none" stroke="#777" stroke-width="1.5"/>
<path d="M1544,526 Q1552,518 1558,518 Z" fill="#c97f32"/>
<path d="M1543,527 Q1550,516 1560,515 L1566,524 Q1556,524 1546,528 Z" fill="#c97f32"/>
<path d="M1574,528 L1588,526 Q1584,538 1582,546 L1579,546 Q1577,536 1574,528 Z" fill="#c97f32"/>
<ellipse cx="1575.5" cy="506" rx="22.5" ry="24.5" fill="#cb8233"/>
</g>
<g transform="translate(0,296)">
<path d="M1597,497 L1737,418 L1770,420 L1847,451 L1847,565 L1695,660 L1683,652 L1637,688 L1620,694 L1600,600 Z" fill="#f6ee7a"/>
<path d="M1597,497 L1737,418 L1770,420 L1847,451 L1690,549 Z" fill="url(#ytop)"/>
<path d="M1690,549 L1847,451 L1847,565 L1695,660 Z" fill="url(#yside)"/>
<path d="M1597,497 L1690,549 L1695,660 L1683,652 L1637,688 L1620,694 L1600,600 Z" fill="#f2ec7c"/>
<path d="M1689,550 L1692,655" stroke="#efe26a" stroke-width="2.5"/>
<path d="M1686,551 L1718,534" stroke="#ecdc5c" stroke-width="3"/>
<path d="M1741,396 Q1741,390 1748,390 L1755,390 Q1762,390 1761,396 L1758,420 L1761,447 L1744,447 L1746,420 Z" fill="#f4f4f2"/>
<path d="M1737,444 L1772,444 L1772,458 Q1755,470 1737,458 Z" fill="#f7f7f4"/>
<path d="M1755,394 L1760,394 L1757,420 L1760,444 L1755,444 Z" fill="#e2e1dc"/>
<path d="M1528,578 L1575,548 L1612,527 L1646,534 L1650,552 L1615,576 L1575,592 L1540,602 Z" fill="#eae6cc"/>
<path d="M1588,535 L1612,527 L1625,545 L1600,553 Z" fill="#f1ec8a"/>
<path d="M1498,594 L1548,566 L1605,578 L1636,605 L1642,660 L1630,700 L1590,722 L1545,730 L1520,700 Z" fill="url(#can)"/>
<path d="M1572,640 Q1600,600 1630,610 L1640,660 L1628,700 L1598,715 Z" fill="#d3d7db"/>
<path d="M1528,616 Q1572,612 1600,648 Q1610,688 1588,716 Q1562,732 1538,727 Z" fill="#1f1f1f"/>
<path d="M1585,640 l10,-4 l4,10 l-10,4 Z M1592,668 l12,-6 l3,8 l-12,6 Z M1580,690 l14,-6 l3,7 l-14,6 Z" fill="#444"/>
<ellipse cx="1509" cy="663" rx="45" ry="64" transform="rotate(10 1509 663)" fill="#2e2e2e"/>
<ellipse cx="1509" cy="663" rx="42" ry="61" transform="rotate(10 1509 663)" fill="none" stroke="#9c9c9c" stroke-width="5" opacity="0.75"/>
<path d="M1476,615 Q1458,650 1470,705" fill="none" stroke="#dcdcdc" stroke-width="4" opacity="0.8"/>
<path d="M1530,612 Q1556,650 1548,720" fill="none" stroke="#bdbdbd" stroke-width="2.5" opacity="0.8"/>
<ellipse cx="1505" cy="674" rx="30" ry="37" transform="rotate(10 1505 674)" fill="#555" stroke="#b0b0b0" stroke-width="2"/>
<ellipse cx="1503" cy="677" rx="24" ry="31" transform="rotate(10 1503 677)" fill="#111"/>
<circle cx="1500" cy="680" r="3" fill="#888"/>
<circle cx="1512" cy="633" r="7" fill="none" stroke="#777" stroke-width="1.5"/>
<circle cx="1540" cy="696" r="7" fill="none" stroke="#777" stroke-width="1.5"/>
<path d="M1544,526 Q1552,518 1558,518 Z" fill="#c97f32"/>
<path d="M1543,527 Q1550,516 1560,515 L1566,524 Q1556,524 1546,528 Z" fill="#c97f32"/>
<path d="M1574,528 L1588,526 Q1584,538 1582,546 L1579,546 Q1577,536 1574,528 Z" fill="#c97f32"/>
<ellipse cx="1575.5" cy="506" rx="22.5" ry="24.5" fill="#cb8233"/>
</g>
<path d="M1545,526 L1493,588" stroke="#8a8a8a" stroke-width="1.6"/>
<path d="M1545,526 L1493,588" stroke="#e6e6e6" stroke-width="0.7"/>
<path d="M1581,545 L1563,621" stroke="#9a9a9a" stroke-width="1.6"/>
<path d="M1581,545 L1563,621" stroke="#f0f0f0" stroke-width="0.7"/>
<path d="M1545,822 L1493,884" stroke="#8a8a8a" stroke-width="1.6"/>
<path d="M1545,822 L1493,884" stroke="#e6e6e6" stroke-width="0.7"/>
<path d="M1581,841 L1563,916" stroke="#9a9a9a" stroke-width="1.6"/>
<path d="M1581,841 L1563,916" stroke="#f0f0f0" stroke-width="0.7"/>
<path d="M756,520 L753,540" stroke="#333" stroke-width="3"/>
<path d="M760.5,547 L760.5,598 L908,600" fill="none" stroke="#000" stroke-opacity="0.5" stroke-width="8.5" stroke-linejoin="round" transform="translate(0,0.6)" filter="url(#blur1)"/>
<path d="M760.5,547 L760.5,598 L908,600" fill="none" stroke="#ff0000" stroke-width="5.6" stroke-linejoin="round"/>
<circle cx="760.5" cy="547" r="10" fill="#ff0000"/>
<circle cx="908" cy="600" r="10" fill="#ff0000"/>
<path d="M740,547 L742,643 L908,647" fill="none" stroke="#000" stroke-opacity="0.5" stroke-width="8.5" stroke-linejoin="round" transform="translate(0,0.6)" filter="url(#blur1)"/>
<path d="M740,547 L742,643 L908,647" fill="none" stroke="#1a9ff0" stroke-width="5.6" stroke-linejoin="round"/>
<circle cx="740" cy="547" r="10" fill="#1a9ff0"/>
<circle cx="908" cy="648" r="10" fill="#1a9ff0"/>
<path d="M596,887 L824,887 L824,653 L908,648" fill="none" stroke="#000" stroke-opacity="0.5" stroke-width="8.5" stroke-linejoin="round" transform="translate(0,0.6)" filter="url(#blur1)"/>
<path d="M596,887 L824,887 L824,653 L908,648" fill="none" stroke="#1a9ff0" stroke-width="5.6" stroke-linejoin="round"/>
<circle cx="596" cy="887" r="10" fill="#1a9ff0"/>
<circle cx="908" cy="648" r="10" fill="#1a9ff0"/>
<path d="M596,736 L962,725" fill="none" stroke="#000" stroke-opacity="0.5" stroke-width="8.5" stroke-linejoin="round" transform="translate(0,0.6)" filter="url(#blur1)"/>
<path d="M596,736 L962,725" fill="none" stroke="#f8a014" stroke-width="5.6" stroke-linejoin="round"/>
<circle cx="596" cy="736" r="10" fill="#f8a014"/>
<circle cx="962" cy="725" r="10" fill="#f8a014"/>
<path d="M596,773.7 L962,768" fill="none" stroke="#000" stroke-opacity="0.5" stroke-width="8.5" stroke-linejoin="round" transform="translate(0,0.6)" filter="url(#blur1)"/>
<path d="M596,773.7 L962,768" fill="none" stroke="#ffff00" stroke-width="5.6" stroke-linejoin="round"/>
<circle cx="596" cy="773.7" r="10" fill="#ffff00"/>
<circle cx="962" cy="768" r="10" fill="#ffff00"/>
<path d="M596,811.4 L962,816.7" fill="none" stroke="#000" stroke-opacity="0.5" stroke-width="8.5" stroke-linejoin="round" transform="translate(0,0.6)" filter="url(#blur1)"/>
<path d="M596,811.4 L962,816.7" fill="none" stroke="#ff00ff" stroke-width="5.6" stroke-linejoin="round"/>
<circle cx="596" cy="811.4" r="10" fill="#ff00ff"/>
<circle cx="962" cy="816.7" r="10" fill="#ff00ff"/>
<path d="M596,849 L962,858" fill="none" stroke="#000" stroke-opacity="0.5" stroke-width="8.5" stroke-linejoin="round" transform="translate(0,0.6)" filter="url(#blur1)"/>
<path d="M596,849 L962,858" fill="none" stroke="#00ee00" stroke-width="5.6" stroke-linejoin="round"/>
<circle cx="596" cy="849" r="10" fill="#00ee00"/>
<circle cx="962" cy="858" r="10" fill="#00ee00"/>
<path d="M1180,726 L1493,725 L1493,588" fill="none" stroke="#000" stroke-opacity="0.5" stroke-width="8.5" stroke-linejoin="round" transform="translate(0,0.6)" filter="url(#blur1)"/>
<path d="M1180,726 L1493,725 L1493,588" fill="none" stroke="#22ee22" stroke-width="5.6" stroke-linejoin="round"/>
<circle cx="1180" cy="726" r="10" fill="#22ee22"/>
<circle cx="1493" cy="588" r="10" fill="#22ee22"/>
<path d="M1180,768 L1563,769 L1563,621" fill="none" stroke="#000" stroke-opacity="0.5" stroke-width="8.5" stroke-linejoin="round" transform="translate(0,0.6)" filter="url(#blur1)"/>
<path d="M1180,768 L1563,769 L1563,621" fill="none" stroke="#22ee22" stroke-width="5.6" stroke-linejoin="round"/>
<circle cx="1180" cy="768" r="10" fill="#22ee22"/>
<circle cx="1563" cy="621" r="10" fill="#22ee22"/>
<path d="M1180,816.7 L1562,816 L1562,916" fill="none" stroke="#000" stroke-opacity="0.5" stroke-width="8.5" stroke-linejoin="round" transform="translate(0,0.6)" filter="url(#blur1)"/>
<path d="M1180,816.7 L1562,816 L1562,916" fill="none" stroke="#22ee22" stroke-width="5.6" stroke-linejoin="round"/>
<circle cx="1180" cy="816.7" r="10" fill="#22ee22"/>
<circle cx="1562" cy="916" r="10" fill="#22ee22"/>
<path d="M1180,858 L1493,860 L1493,884" fill="none" stroke="#000" stroke-opacity="0.5" stroke-width="8.5" stroke-linejoin="round" transform="translate(0,0.6)" filter="url(#blur1)"/>
<path d="M1180,858 L1493,860 L1493,884" fill="none" stroke="#22ee22" stroke-width="5.6" stroke-linejoin="round"/>
<circle cx="1180" cy="858" r="10" fill="#22ee22"/>
<circle cx="1493" cy="884" r="10" fill="#22ee22"/>
</svg>
</body></html>
